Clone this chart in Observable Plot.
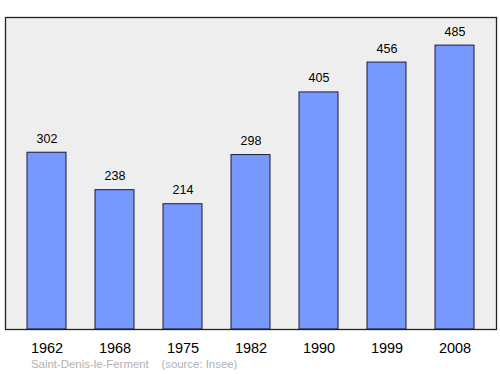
<!DOCTYPE html>
<html>
<head>
<meta charset="utf-8">
<script src="https://cdn.jsdelivr.net/npm/d3@7"></script>
<script src="https://cdn.jsdelivr.net/npm/@observablehq/plot@0.6"></script>
<style>
  body { margin: 0; background: #fff; font-family: "Liberation Sans", Arial, sans-serif; }
  #chart svg { display: block; }
  #caption { position: absolute; left: 31px; top: 358px; font-size: 11.4px; color: #b0b0b0; white-space: pre; }
</style>
</head>
<body>
<div id="chart"></div>
<div id="caption">Saint-Denis-le-Ferment    (source: Insee)</div>
<script>
const years = ["1962", "1968", "1975", "1982", "1990", "1999", "2008"];
const population = [302, 238, 214, 298, 405, 456, 485];

const data = years.map((y, i) => ({year: y, value: population[i]}));

const chart = Plot.plot({
  width: 500,
  height: 358,
  marginLeft: 5,
  marginRight: 4,
  marginTop: 17,
  marginBottom: 29,
  style: {fontFamily: "'Liberation Sans', Arial, sans-serif", background: "transparent"},
  x: {domain: years, range: [26, 476], paddingInner: 0.42, paddingOuter: 0, label: null},
  y: {domain: [0, 533], axis: null},
  marks: [
    Plot.frame({fill: "#eeeeee", stroke: "none"}),
    Plot.barY(data, {x: "year", y: "value", fill: "#7799ff", stroke: "#1a1a3a", strokeWidth: 1}),
    Plot.text(data, {x: "year", y: "value", text: d => String(d.value), dy: -14, fontSize: 12.5, fill: "#000"}),
    Plot.frame({stroke: "#222", strokeWidth: 1.3}),
    Plot.axisX({tickSize: 0, tickPadding: 13, fontSize: 14.5, color: "#000", label: null})
  ]
});
document.getElementById("chart").appendChild(chart);
</script>
</body>
</html>
